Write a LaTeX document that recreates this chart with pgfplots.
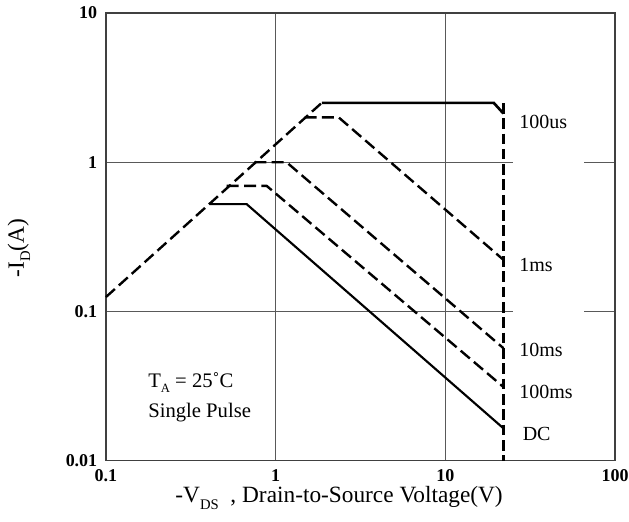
\documentclass[border=0pt]{standalone}
\usepackage{fontspec}
\setmainfont{Liberation Serif}
\usepackage{pgfplots}
\pgfplotsset{compat=1.18}
\newcommand{\sub}[1]{\raisebox{-0.55ex}{\fontsize{9.5}{11}\selectfont #1}}
\newcommand{\subL}[1]{\raisebox{-0.6ex}{\fontsize{11}{13}\selectfont #1}}
\begin{document}
\begin{tikzpicture}
\begin{axis}[name=ax,
  xmode=log, ymode=log,
  xmin=0.1, xmax=100, ymin=0.01, ymax=10,
  scale only axis, width=382pt, height=336pt,
  xtick={0.1,1,10,100}, xticklabels={\textbf{0.1},\textbf{1},\textbf{10},\textbf{100}},
  ytick={0.01,0.1,1,10}, yticklabels={\textbf{0.01},\textbf{0.1},\textbf{1},\textbf{10}},
  minor xtick={}, minor ytick={},
  major tick length=0pt, minor tick length=0pt,
  grid=major,
  major grid style={black!65, line width=0.7pt},
  axis line style={black!75, line width=0.9pt},
  tick label style={font=\fontsize{13.5}{16}\selectfont},
  xticklabel style={yshift=-3pt},
  yticklabel style={xshift=-3pt},
  xlabel={-V\subL{DS}\ \ , Drain-to-Source Voltage(V)},
  ylabel={-I\subL{D}(A)},
  label style={font=\fontsize{17.5}{20}\selectfont},
  xlabel style={at={(axis description cs:0.458,-0.094)}, anchor=base},
  ylabel style={at={(axis description cs:-0.171,0.475)}, anchor=center, rotate=0},
  clip=false,
]
% gaps in horizontal grid lines
\draw[white, line width=2pt] (axis cs:25,1) -- (axis cs:66,1);
\draw[white, line width=2pt] (axis cs:25,0.1) -- (axis cs:66,0.1);

% 100us rising (dashed) part
\addplot[black, line width=1.8pt, dash pattern=on 9pt off 4pt] coordinates {(0.1,0.125) (1.87,2.5)};
% 100us flat (solid) part
\addplot[black, line width=2pt] coordinates {(1.87,2.5) (19.3,2.5) (22.0,2.12)};
% Vds max boundary
\addplot[black, line width=2pt, dash pattern=on 8pt off 3.5pt] coordinates {(22.0,2.5) (22.0,0.01)};
% 1ms
\addplot[black, line width=1.8pt, dash pattern=on 9pt off 4pt] coordinates {(1.48,2.0) (2.35,2.0) (22.0,0.222)};
% 10ms
\addplot[black, line width=1.8pt, dash pattern=on 9pt off 4pt] coordinates {(0.75,1.0) (1.16,1.0) (22.0,0.0568)};
% 100ms
\addplot[black, line width=1.8pt, dash pattern=on 9pt off 4pt] coordinates {(0.515,0.695) (0.885,0.695) (22.0,0.0312)};
% DC
\addplot[black, line width=1.6pt] coordinates {(0.409,0.524) (0.675,0.524) (22.0,0.0165)};

\node[anchor=west, font=\fontsize{15}{18}\selectfont, inner sep=0pt] at (axis cs:27.2,1.86) {100us};
\node[anchor=west, font=\fontsize{15}{18}\selectfont, inner sep=0pt] at (axis cs:27.2,0.205) {1ms};
\node[anchor=west, font=\fontsize{15}{18}\selectfont, inner sep=0pt] at (axis cs:27.2,0.0553) {10ms};
\node[anchor=west, font=\fontsize{15}{18}\selectfont, inner sep=0pt] at (axis cs:27.2,0.0289) {100ms};
\node[anchor=west, font=\fontsize{15}{18}\selectfont, inner sep=0pt] at (axis cs:28.5,0.0151) {DC};

\node[anchor=west, font=\fontsize{15.5}{18}\selectfont, inner sep=0pt] at (axis cs:0.177,0.0333) {T\sub{A} = 25˚C};
\node[anchor=west, font=\fontsize{15.5}{18}\selectfont, inner sep=0pt] at (axis cs:0.177,0.0209) {Single Pulse};
\end{axis}
\pgfresetboundingbox
\path[use as bounding box] ([xshift=-79.5pt,yshift=-45.75pt]ax.south west) rectangle ([xshift=10.5pt,yshift=9.75pt]ax.north east);
\end{tikzpicture}
\end{document}
